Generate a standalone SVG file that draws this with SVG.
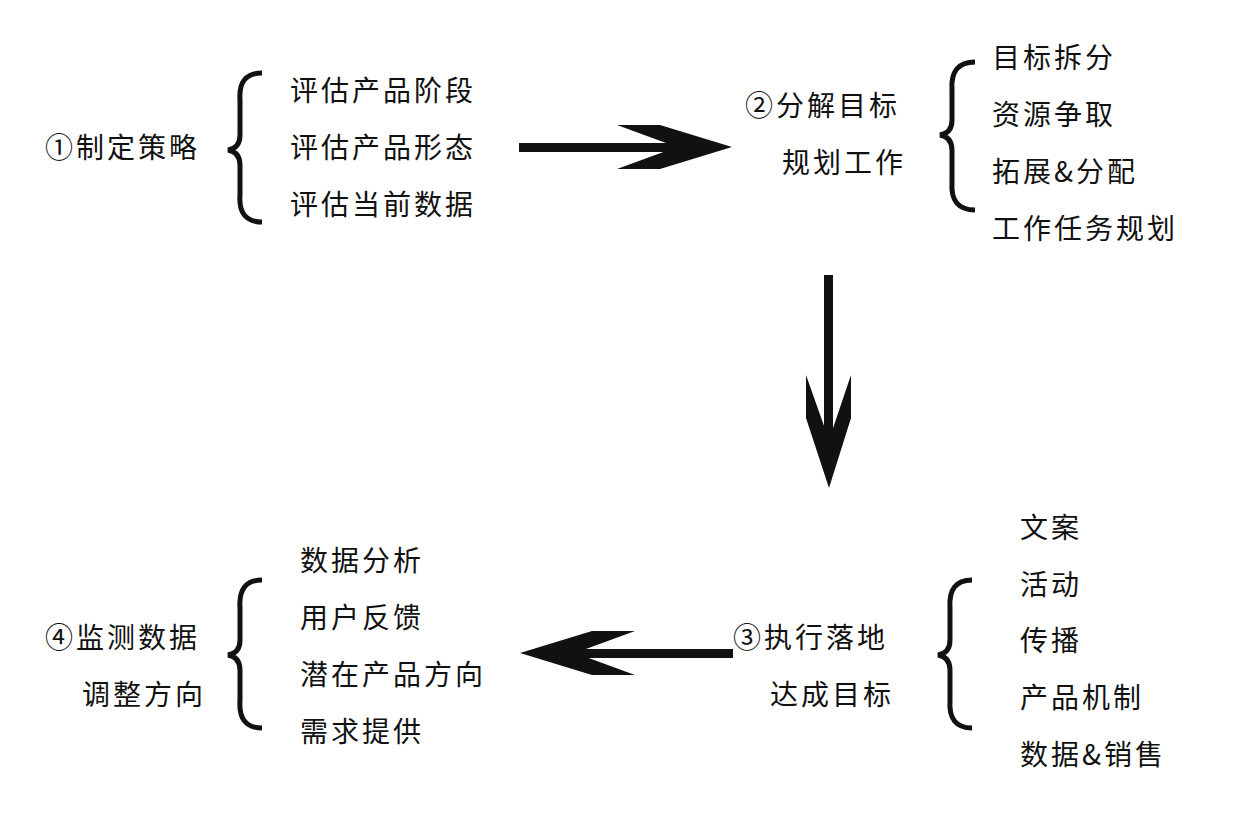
<svg xmlns="http://www.w3.org/2000/svg" width="1240" height="821" viewBox="0 0 1240 821">
<style>
text{font-family:"Noto Sans CJK SC","Liberation Sans",sans-serif;font-size:28px;fill:#111;letter-spacing:3px}
.b{fill:none;stroke:#111;stroke-width:5}
.a{fill:#111}
</style>
<rect width="1240" height="821" fill="#fff"/>
<g id="n1">
<text x="45" y="158">①制定策略</text>
<path class="b" d="M262,73 Q238,73 240,100 L240,135 Q240,148 228,150 Q240,152 240,165 L240,195 Q238,222 262,222"/>
<text x="290" y="101">评估产品阶段</text>
<text x="290" y="158">评估产品形态</text>
<text x="290" y="215">评估当前数据</text>
</g>
<g id="n2">
<text x="745" y="116">②分解目标</text>
<text x="782" y="173">规划工作</text>
<path class="b" d="M975,62 Q950,62 952,90 L952,120 Q952,133 940,135 Q952,137 952,150 L952,182 Q950,210 975,210"/>
<text x="992" y="68">目标拆分</text>
<text x="992" y="125">资源争取</text>
<text x="992" y="182">拓展&amp;分配</text>
<text x="992" y="239">工作任务规划</text>
</g>
<g id="n3">
<text x="733" y="648">③执行落地</text>
<text x="770" y="705">达成目标</text>
<path class="b" d="M972,580 Q948,580 950,608 L950,640 Q950,653 938,655 Q950,657 950,670 L950,700 Q948,728 972,728"/>
<text x="1020" y="538">文案</text>
<text x="1020" y="595">活动</text>
<text x="1020" y="651">传播</text>
<text x="1020" y="708">产品机制</text>
<text x="1020" y="765">数据&amp;销售</text>
</g>
<g id="n4">
<text x="45" y="648">④监测数据</text>
<text x="82" y="705">调整方向</text>
<path class="b" d="M262,580 Q238,580 240,608 L240,640 Q240,653 228,655 Q240,657 240,670 L240,700 Q238,728 262,728"/>
<text x="300" y="571">数据分析</text>
<text x="300" y="628">用户反馈</text>
<text x="300" y="685">潜在产品方向</text>
<text x="300" y="742">需求提供</text>
</g>
<g id="connectors">
<rect class="a" x="519" y="143" width="162" height="9"/>
<polygon class="a" points="732,147 660,125 617,125 677,147 617,169 660,169"/>
<rect class="a" x="824" y="275" width="9" height="168"/>
<polygon class="a" points="829,488 806,418 806,375 829,440 851,375 851,418"/>
<rect class="a" x="570" y="649" width="163" height="9"/>
<polygon class="a" points="520,653 592,631 635,631 575,653 635,675 592,675"/>
</g>
</svg>
